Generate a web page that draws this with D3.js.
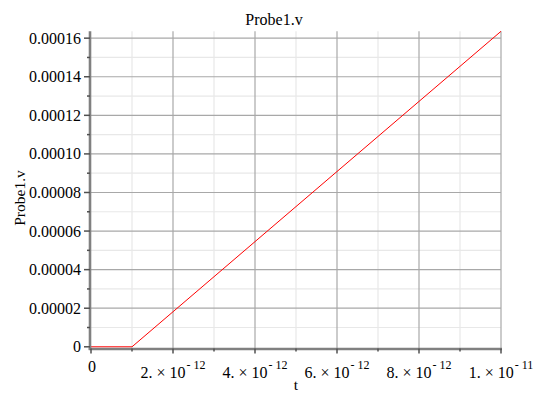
<!DOCTYPE html>
<html>
<head>
<meta charset="utf-8">
<script src="https://cdn.jsdelivr.net/npm/d3@7"></script>
<style>
  html, body { margin: 0; padding: 0; background: #fff; }
  svg { display: block; }
</style>
</head>
<body>
<svg id="chart" width="545" height="409" font-family="'Liberation Serif', 'Times New Roman', Times, 'DejaVu Serif', serif"></svg>
<script>
// ---- data ----
const timeValues = [0, 1e-12, 1e-11];
const probeValues = [0, 0, 1.6356e-4];
const xMajorTicks = [0, 2e-12, 4e-12, 6e-12, 8e-12, 1e-11];
const xTickMantissa = ["0", "2.", "4.", "6.", "8.", "1."];
const xTickExponent = ["", "-12", "-12", "-12", "-12", "-11"];
const xMinorTicks = [1e-12, 3e-12, 5e-12, 7e-12, 9e-12];
const yMajorTicks = [0, 2e-5, 4e-5, 6e-5, 8e-5, 1e-4, 1.2e-4, 1.4e-4, 1.6e-4];
const yTickLabels = ["0", "0.00002", "0.00004", "0.00006", "0.00008", "0.00010", "0.00012", "0.00014", "0.00016"];
const yMinorTicks = [1e-5, 3e-5, 5e-5, 7e-5, 9e-5, 1.1e-4, 1.3e-4, 1.5e-4];
const titleText = "Probe1.v";
const xLabel = "t";
const yLabel = "Probe1.v";

const svg = d3.select("#chart");
const x = d3.scaleLinear().domain([0, 1e-11]).range([91, 501]);
const y = d3.scaleLinear().domain([0, d3.max(probeValues)]).range([346.8, 31.3]);

const plotTop = y.range()[1], plotBottom = 348.5, plotLeft = 90, plotRight = x.range()[1];

// minor grid
svg.append("g").selectAll("line").data(xMinorTicks).join("line")
  .attr("x1", d => x(d)).attr("x2", d => x(d))
  .attr("y1", plotTop).attr("y2", plotBottom)
  .attr("stroke", "#e8e8e8").attr("stroke-width", 1.2);
svg.append("g").selectAll("line").data(yMinorTicks).join("line")
  .attr("x1", plotLeft).attr("x2", plotRight)
  .attr("y1", d => y(d)).attr("y2", d => y(d))
  .attr("stroke", "#e8e8e8").attr("stroke-width", 1.2);

// major grid
svg.append("g").selectAll("line").data(xMajorTicks.slice(1)).join("line")
  .attr("x1", d => x(d)).attr("x2", d => x(d))
  .attr("y1", plotTop).attr("y2", plotBottom)
  .attr("stroke", "#a8a8a8").attr("stroke-width", 1.2);
svg.append("g").selectAll("line").data(yMajorTicks.slice(1)).join("line")
  .attr("x1", plotLeft).attr("x2", plotRight)
  .attr("y1", d => y(d)).attr("y2", d => y(d))
  .attr("stroke", "#a8a8a8").attr("stroke-width", 1.2);

// data line
const line = d3.line().x((d, i) => x(timeValues[i])).y(d => y(d));
svg.append("path").datum(probeValues)
  .attr("d", line).attr("fill", "none")
  .attr("stroke", "#ff0000").attr("stroke-width", 1);

// axes lines
svg.append("line").attr("x1", plotLeft).attr("x2", plotLeft)
  .attr("y1", plotTop).attr("y2", plotBottom + 1.5)
  .attr("stroke", "#808080").attr("stroke-width", 2.6);
svg.append("line").attr("x1", plotLeft - 1.3).attr("x2", plotRight + 1)
  .attr("y1", plotBottom + 0.5).attr("y2", plotBottom + 0.5)
  .attr("stroke", "#808080").attr("stroke-width", 2.4);

// y ticks
svg.append("g").selectAll("line").data(yMajorTicks).join("line")
  .attr("x1", plotLeft - 6).attr("x2", plotLeft)
  .attr("y1", d => y(d)).attr("y2", d => y(d))
  .attr("stroke", "#505050").attr("stroke-width", 1.5);
svg.append("g").selectAll("line").data(yMinorTicks).join("line")
  .attr("x1", plotLeft - 3).attr("x2", plotLeft)
  .attr("y1", d => y(d)).attr("y2", d => y(d))
  .attr("stroke", "#505050").attr("stroke-width", 1.5);
svg.append("g").selectAll("text").data(yMajorTicks).join("text")
  .attr("x", 81).attr("y", d => y(d) + 5.5)
  .attr("text-anchor", "end").attr("font-size", 16)
  .text((d, i) => yTickLabels[i]);

// x ticks
svg.append("g").selectAll("line").data(xMajorTicks).join("line")
  .attr("x1", d => x(d)).attr("x2", d => x(d))
  .attr("y1", plotBottom).attr("y2", plotBottom + 5)
  .attr("stroke", "#505050").attr("stroke-width", 1.5);
svg.append("g").selectAll("line").data(xMinorTicks).join("line")
  .attr("x1", d => x(d)).attr("x2", d => x(d))
  .attr("y1", plotBottom).attr("y2", plotBottom + 3)
  .attr("stroke", "#505050").attr("stroke-width", 1.5);

const xt = svg.append("g").selectAll("text").data(xMajorTicks).join("text")
  .attr("x", d => x(d) + (d === 0 ? 1 : 0))
  .attr("y", d => d === 0 ? 371.5 : 377.5)
  .attr("text-anchor", "middle").attr("font-size", 16);
xt.each(function(d, i) {
  const t = d3.select(this);
  if (!xTickExponent[i]) { t.text(xTickMantissa[i]); return; }
  t.append("tspan").text(xTickMantissa[i] + " \u00d7 10");
  t.append("tspan").attr("font-size", 12).attr("dy", -8.5).attr("dx", 1)
    .text(xTickExponent[i].replace("-", "- "));
});

// title and axis labels
svg.append("text").attr("x", 274).attr("y", 24.5)
  .attr("text-anchor", "middle").attr("font-size", 16).text(titleText);
svg.append("text").attr("x", 296).attr("y", 390)
  .attr("text-anchor", "middle").attr("font-size", 15.5).text(xLabel);
svg.append("text").attr("transform", "translate(24.5,198) rotate(-90)")
  .attr("text-anchor", "middle").attr("font-size", 15.5).text(yLabel);
</script>
</body>
</html>
